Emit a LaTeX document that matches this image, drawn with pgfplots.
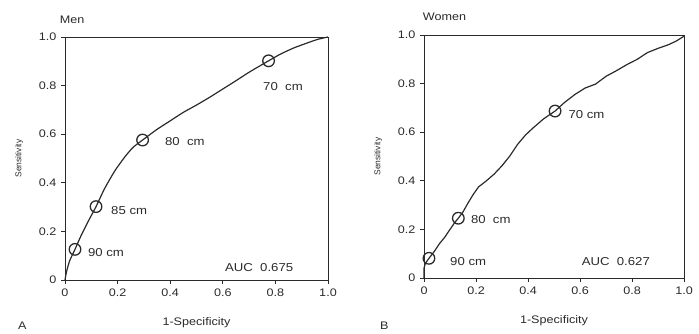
\documentclass[border=0pt]{standalone}
\usepackage{pgfplots}
\pgfplotsset{compat=1.18}
\usepackage{fontspec}
\setmainfont{Liberation Sans}[FakeStretch=1.15]
\newfontfamily\plainsans{Liberation Sans}
\definecolor{ink}{HTML}{2A2A2A}
\tikzset{
  lab/.style={font=\fontsize{11.5}{13}\selectfont, text=ink, anchor=west, inner sep=0pt},
  ttl/.style={font=\fontsize{11}{13}\selectfont, text=ink, anchor=west, inner sep=0pt},
}
\pgfplotsset{
  roc/.style={
    scale only axis, width=263bp, height=243bp,
    xmin=0, xmax=1, ymin=0, ymax=1,
    xtick={0,0.2,0.4,0.6,0.8,1}, ytick={0,0.2,0.4,0.6,0.8,1},
    xticklabels={\mbox{0},\mbox{0.2},\mbox{0.4},\mbox{0.6},\mbox{0.8},\mbox{1.0}},
    yticklabels={\mbox{0},\mbox{0.2},\mbox{0.4},\mbox{0.6},\mbox{0.8},\mbox{1.0}},
    xtick pos=bottom, ytick pos=left, tick align=outside,
    major tick length=4bp,
    axis line style={ink, line width=1pt},
    every tick/.style={ink, line width=0.9pt},
    tick label style={font=\fontsize{11}{13}\selectfont, text=ink},
    xticklabel style={yshift=-1bp},
    yticklabel style={xshift=-1bp},
    xlabel={1-Specificity}, ylabel={Sensitivity},
    xlabel style={font=\fontsize{11}{13}\selectfont, text=ink, yshift=-14bp},
    ylabel style={font=\plainsans\fontsize{8.5}{10}\selectfont, text=ink, yshift=9bp},
    clip=false,
  },
  curve/.style={ink, line width=1.2pt, no marks},
  pts/.style={only marks, mark=o, mark size=5.8bp, mark options={ink, line width=1.3pt, fill=white}},
}
\begin{document}
\begin{tikzpicture}[x=1bp,y=1bp]
\path (0,0) rectangle (699,333);
% Men
\begin{axis}[roc, at={(65bp,53bp)}, anchor=south west]
\addplot[curve, smooth, tension=0.4] coordinates {
(0,0) (0.006,0.035) (0.018,0.08) (0.038,0.126) (0.06,0.18) (0.09,0.245)
(0.118,0.302) (0.15,0.375) (0.19,0.45) (0.23,0.51) (0.26,0.547) (0.295,0.576)
(0.35,0.62) (0.4,0.655) (0.45,0.69) (0.5,0.72) (0.55,0.752) (0.6,0.786)
(0.65,0.82) (0.7,0.855) (0.774,0.902) (0.82,0.93) (0.87,0.955) (0.92,0.975)
(0.96,0.99) (1.0,1.0)};
\addplot[pts] coordinates {(0.038,0.126) (0.118,0.302) (0.295,0.576) (0.774,0.902)};
\node[lab] at (axis cs:0.087,0.111) {90 cm};
\node[lab] at (axis cs:0.175,0.284) {85 cm};
\node[lab] at (axis cs:0.380,0.568) {80\ \ cm};
\node[lab] at (axis cs:0.753,0.798) {70\ \ cm};
\node[lab] at (axis cs:0.608,0.053) {AUC\ \ 0.675};
\node[ttl] at (axis cs:-0.02,1.07) {Men};
\end{axis}
% Women
\begin{axis}[roc, width=260bp, at={(424bp,55bp)}, anchor=south west]
\addplot[curve] coordinates {
(0,0) (0,0.04) (0.005,0.06) (0.019,0.081) (0.04,0.11) (0.06,0.142) (0.08,0.168)
(0.1,0.2) (0.118,0.228) (0.132,0.246) (0.15,0.272) (0.17,0.31) (0.19,0.345)
(0.21,0.375) (0.24,0.40) (0.27,0.428) (0.3,0.462) (0.33,0.502) (0.36,0.55)
(0.39,0.588) (0.42,0.618) (0.46,0.655) (0.504,0.687) (0.54,0.722) (0.58,0.755)
(0.62,0.782) (0.66,0.798) (0.70,0.83) (0.74,0.853) (0.78,0.878) (0.82,0.9)
(0.86,0.928) (0.90,0.945) (0.94,0.96) (0.97,0.975) (1,0.995)};
\addplot[pts] coordinates {(0.019,0.081) (0.132,0.246) (0.504,0.687)};
\node[lab] at (axis cs:0.10,0.067) {90 cm};
\node[lab] at (axis cs:0.18,0.241) {80\ \ cm};
\node[lab] at (axis cs:0.555,0.674) {70 cm};
\node[lab] at (axis cs:0.606,0.067) {AUC\ \ 0.627};
\node[ttl] at (axis cs:-0.005,1.075) {Women};
\end{axis}
\node[font=\fontsize{11}{12}\selectfont, text=ink, anchor=north west, inner sep=0pt] at (18,11) {A};
\node[font=\fontsize{11}{12}\selectfont, text=ink, anchor=north west, inner sep=0pt] at (380,11) {B};
\pgfresetboundingbox
\path[use as bounding box] (0,0) rectangle (699,333);
\end{tikzpicture}
\end{document}
